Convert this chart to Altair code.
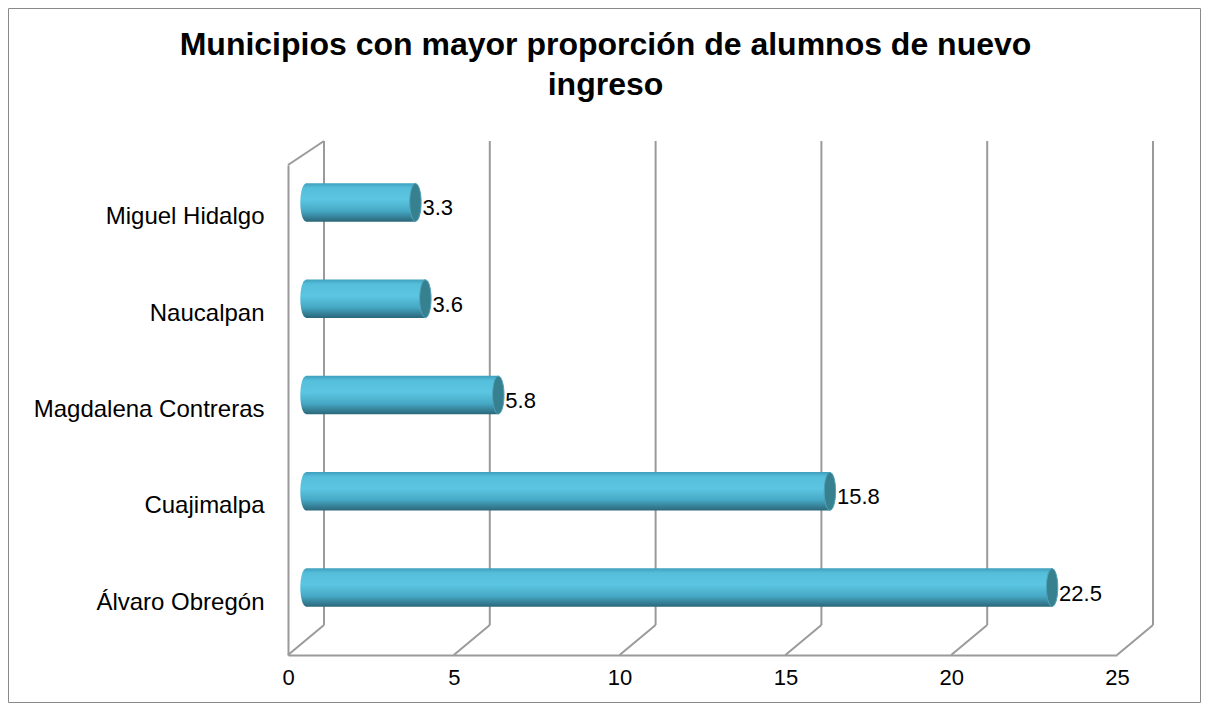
import altair as alt
import pandas as pd

categories = ["Miguel Hidalgo", "Naucalpan", "Magdalena Contreras", "Cuajimalpa", "Álvaro Obregón"]
values = [3.3, 3.6, 5.8, 15.8, 22.5]
ticks = [0, 5, 10, 15, 20, 25]
title_lines = ["Municipios con mayor proporción de alumnos de nuevo", "ingreso"]

df = pd.DataFrame({"municipio": categories, "valor": values, "etiqueta": [f"{v:.1f}" for v in values]})
tick_df = pd.DataFrame({"t": ticks})

W, H = 829, 490
DX, DY = 36, -30          # depth of the 3D box (back wall offset)
MX, MY = 18, -15          # bars sit halfway in depth
GRID = "#9a9a9a"
FONT = "Liberation Sans"

xscale = alt.Scale(domain=[0, 25], nice=False, zero=True)
yscale = alt.Scale(domain=categories, paddingInner=0.6, paddingOuter=0.344)

x_enc = alt.X("valor:Q", scale=xscale,
              axis=alt.Axis(values=ticks, title=None, grid=False, ticks=False, labelFlush=False,
                            domainColor=GRID, domainWidth=2, labelFontSize=22,
                            labelFont=FONT, labelColor="black", labelPadding=12))
y_enc = alt.Y("municipio:N", scale=yscale, sort=categories,
              axis=alt.Axis(title=None, grid=False, ticks=False, domainColor=GRID,
                            domainWidth=2, labelFontSize=24, labelFont=FONT,
                            labelColor="black", labelPadding=24, labelLimit=400))

# back wall gridlines
back = alt.Chart(tick_df).mark_rule(color=GRID, strokeWidth=2, xOffset=DX).encode(
    x=alt.X("t:Q", scale=xscale), y=alt.value(-24), y2=alt.value(H + DY)
)
# floor diagonals
diag = alt.Chart(tick_df).mark_rule(color=GRID, strokeWidth=2, x2Offset=DX).encode(
    x=alt.X("t:Q", scale=xscale), x2="t:Q", y=alt.value(H), y2=alt.value(H + DY)
)
# left wall top diagonal
topdiag = alt.Chart(alt.Data(values=[{"t": 0}])).mark_rule(color=GRID, strokeWidth=2, x2Offset=DX).encode(
    x=alt.X("t:Q", scale=xscale), x2="t:Q", y=alt.value(0), y2=alt.value(-24)
)

grad = alt.Gradient(
    gradient="linear", x1=0, x2=0, y1=0, y2=1,
    stops=[alt.GradientStop(color="#3e9fbb", offset=0),
           alt.GradientStop(color="#55bedb", offset=0.12),
           alt.GradientStop(color="#5cc6e2", offset=0.42),
           alt.GradientStop(color="#46a9c5", offset=0.72),
           alt.GradientStop(color="#2b6679", offset=1)])

ELLIPSE = "M0,-1A0.3,1,0,1,1,0,1A0.3,1,0,1,1,0,-1Z"

base = alt.Chart(df)
left_cap = base.transform_calculate(zero="0").mark_point(
    shape=ELLIPSE, filled=True, fill=grad, opacity=1, size=1444,
    xOffset=MX, yOffset=MY, strokeWidth=0).encode(
    x=alt.X("zero:Q", scale=xscale), y=y_enc
)
bars = base.mark_bar(fill=grad, xOffset=MX, x2Offset=MX, yOffset=MY, y2Offset=MY).encode(
    x=x_enc, y=y_enc
)
right_cap = base.mark_point(shape=ELLIPSE, filled=True, fill="#37808f", opacity=1, size=1444,
                            xOffset=MX, yOffset=MY, stroke="#4fa3b8", strokeWidth=1).encode(
    x=alt.X("valor:Q", scale=xscale), y=y_enc
)
labels = base.mark_text(align="left", baseline="middle", fontSize=22, font=FONT, color="black",
                        xOffset=MX + 7, yOffset=MY + 6).encode(
    x=alt.X("valor:Q", scale=xscale), y=y_enc, text="etiqueta:N"
)

frame = alt.Chart(alt.Data(values=[{"a": 1}])).mark_rect(fill="transparent", stroke="#8a8a8a", strokeWidth=1).encode(
    x=alt.value(-279.5), x2=alt.value(912.5), y=alt.value(-156.5), y2=alt.value(537.5)
)

chart = alt.layer(frame, back, diag, topdiag, left_cap, bars, right_cap, labels).properties(
    width=W, height=H,
    title=alt.TitleParams(title_lines, fontSize=32, font=FONT, fontWeight="bold", color="black",
                          anchor="middle", dx=-97, offset=-94, lineHeight=40),
    autosize=alt.AutoSizeParams(type="none"),
    padding={"left": 280, "top": 157, "right": 84, "bottom": 48},
).configure(background="white").configure_view(strokeWidth=0, stroke="transparent")

chart.save("out.html", embed_options={"renderer": "svg", "actions": False})
